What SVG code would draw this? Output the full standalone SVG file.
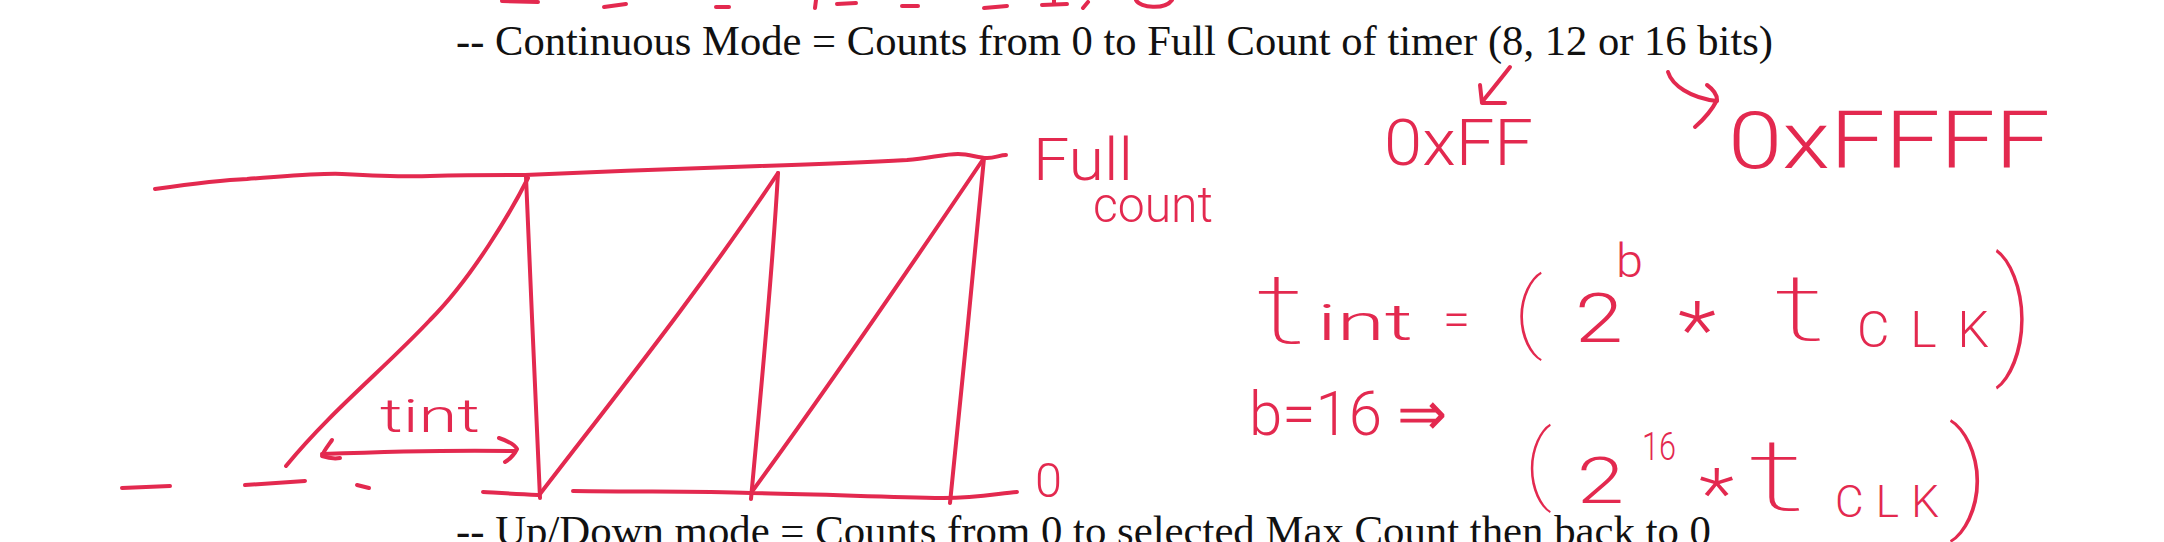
<svg xmlns="http://www.w3.org/2000/svg" width="2164" height="542" viewBox="0 0 2164 542">
<style>
.ink{fill:none;stroke:#e3294f;stroke-width:4;stroke-linecap:round;stroke-linejoin:round}
.hw{fill:#e3294f;font-family:Roboto,"Liberation Sans","DejaVu Sans",sans-serif;font-weight:300}
.thin{font-weight:100}
.print{fill:#111;font-family:"Liberation Serif","Times New Roman",serif;font-size:43px}
</style>
<rect width="2164" height="542" fill="#fff"/>
<g id="top-fragments" class="ink">
<path d="M502,1 L538,2"/><path d="M604,7 L626,4"/><path d="M716,7 L729,7"/><path d="M816,0 L815,8"/><path d="M837,4 L856,3"/><path d="M902,6 L918,6"/><path d="M984,8 L1007,6"/><path d="M1042,5 L1067,4"/><path d="M1054,0 L1054,4"/><path d="M1088,2 L1083,8"/><path d="M1136,0 C1140,8 1165,10 1172,0"/>
</g>
<g id="heading-continuous"><text class="print" x="456" y="55" textLength="1317" lengthAdjust="spacingAndGlyphs">-- Continuous Mode = Counts from 0 to Full Count of timer (8, 12 or 16 bits)</text></g>
<g id="heading-updown"><text class="print" x="456" y="545" textLength="1255" lengthAdjust="spacingAndGlyphs">-- Up/Down mode = Counts from 0 to selected Max Count then back to 0</text></g>
<g id="sawtooth" class="ink">
<path d="M155,189 C190,184 220,180 247,179 C290,176 320,173 342,174 C380,176 405,177 430,176 C470,175 500,175 525,175 C600,172 690,168 760,166 C820,164 870,162 907,160 C930,158 945,154 958,154 C970,154 978,158 987,158 C995,158 1000,155 1006,155"/>
<path d="M528,178 C512,210 472,278 430,320 C385,368 330,412 286,466"/>
<path d="M526,177 C530,280 536,400 540,498"/>
<path d="M540,494 C620,390 700,290 778,173"/>
<path d="M778,173 C772,280 760,400 751,499"/>
<path d="M751,493 C830,385 905,275 984,158"/>
<path d="M984,158 C975,260 960,400 950,503"/>
<path d="M483,492 C500,493 515,494 538,495"/>
<path d="M573,491 C650,492 700,491 751,493 C820,494 880,497 943,498 C980,498 1000,493 1017,492"/>
<path d="M122,488 L170,486"/>
<path d="M245,485 L305,481"/>
<path d="M357,485 L369,488"/>
</g>
<g id="tint-arrow" class="ink">
<path d="M322,454 C400,451 460,450 515,451"/>
<path d="M332,440 C327,447 323,452 322,456 C328,458 334,459 340,458"/>
<path d="M499,438 C508,441 515,445 517,449 C514,455 510,459 505,462"/>
</g>
<g id="graph-labels">
<text class="hw" x="380" y="432" font-size="46" textLength="100" lengthAdjust="spacingAndGlyphs">tint</text>
<text class="hw" x="1033" y="180" font-size="60" textLength="100" lengthAdjust="spacingAndGlyphs">Full</text>
<text class="hw" x="1093" y="222" font-size="50" textLength="120" lengthAdjust="spacingAndGlyphs">count</text>
<text class="hw" x="1035" y="497" font-size="49" textLength="27" lengthAdjust="spacingAndGlyphs">0</text>
</g>
<g id="bit-arrows" class="ink">
<path d="M1510,67 C1500,80 1490,92 1482,102"/>
<path d="M1480,85 L1482,103 L1505,103"/>
<path d="M1668,72 C1672,85 1690,98 1717,101"/>
<path d="M1707,85 C1714,90 1717,96 1717,100 C1712,110 1703,120 1695,127"/>
</g>
<g id="full-counts">
<text class="hw" x="1384" y="165" font-size="65" textLength="149" lengthAdjust="spacingAndGlyphs">0xFF</text>
<text class="hw" x="1728" y="168" font-size="80" textLength="322" lengthAdjust="spacingAndGlyphs">0xFFFF</text>
</g>
<g id="formula-general">
<text class="hw thin" x="1256" y="343" font-size="98" textLength="50" lengthAdjust="spacingAndGlyphs">t</text>
<text class="hw" x="1317" y="340" font-size="50" textLength="96" lengthAdjust="spacingAndGlyphs">int</text>
<text class="hw" x="1443" y="336" font-size="50" textLength="27" lengthAdjust="spacingAndGlyphs">=</text>
<text class="hw thin" x="1513" y="341" font-size="88" textLength="30" lengthAdjust="spacingAndGlyphs">(</text>
<text class="hw" x="1575" y="342" font-size="68" textLength="48" lengthAdjust="spacingAndGlyphs">2</text>
<text class="hw" x="1616" y="277" font-size="47" textLength="27" lengthAdjust="spacingAndGlyphs">b</text>
<text class="hw" x="1678" y="358" font-size="80" textLength="38" lengthAdjust="spacingAndGlyphs">*</text>
<text class="hw thin" x="1774" y="340" font-size="92" textLength="52" lengthAdjust="spacingAndGlyphs">t</text>
<text class="hw" x="1857" y="347" font-size="50" textLength="132" lengthAdjust="spacing">CLK</text>
<text class="hw thin" x="1994" y="358" font-size="138" textLength="40" lengthAdjust="spacingAndGlyphs">)</text>
</g>
<g id="formula-b16">
<text class="hw" x="1249" y="435" font-size="62" textLength="198" lengthAdjust="spacingAndGlyphs">b=16 ⇒</text>
</g>
<g id="formula-16bit">
<text class="hw thin" x="1524" y="493" font-size="88" textLength="28" lengthAdjust="spacingAndGlyphs">(</text>
<text class="hw" x="1577" y="503" font-size="64" textLength="47" lengthAdjust="spacingAndGlyphs">2</text>
<text class="hw" x="1642" y="460" font-size="38" textLength="34" lengthAdjust="spacingAndGlyphs">16</text>
<text class="hw" x="1699" y="518" font-size="70" textLength="35" lengthAdjust="spacingAndGlyphs">*</text>
<text class="hw thin" x="1748" y="510" font-size="100" textLength="58" lengthAdjust="spacingAndGlyphs">t</text>
<text class="hw" x="1835" y="517" font-size="44" textLength="104" lengthAdjust="spacing">CLK</text>
<text class="hw thin" x="1948" y="515" font-size="120" textLength="42" lengthAdjust="spacingAndGlyphs">)</text>
</g>
</svg>
